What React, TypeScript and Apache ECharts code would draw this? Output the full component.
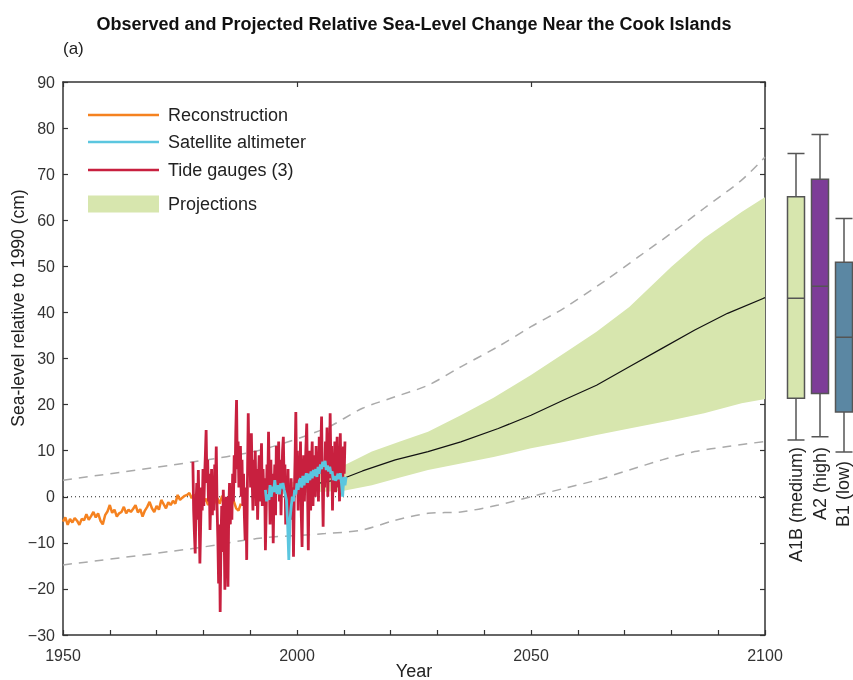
import React, { useEffect, useRef } from "react";
import * as echarts from "echarts";

// ---------- data ----------
const reconStart = 1950;
const reconStep = 0.5;
const reconValues = [
  -5.4, -4.5, -6.1, -4.8, -5.6, -4.6, -5.2, -6.1, -4.8, -5.1,
  -3.8, -5.0, -4.2, -3.3, -4.5, -3.6, -5.2, -6.0, -4.0, -3.2,
  -1.8, -3.5, -2.8, -4.3, -3.6, -3.3, -2.2, -3.6, -2.8, -3.3,
  -2.6, -1.8, -3.4, -2.7, -4.3, -3.0, -2.2, -1.1, -2.5, -3.3,
  -2.0, -2.8, -0.7, -1.6, -2.5, -1.2, -1.8, -0.9, -1.5, 0.4,
  -0.7, -0.2, 0.2, 0.4, 0.8, -0.3, 0.5, -1.0, -0.5, -2.0,
  -1.2, -0.4, -1.8, -0.6, -2.2, -1.0, -0.3, -1.5, 0.2, -0.8,
  -2.0, -1.2, 0.0, -1.0, -2.5, -3.0, -1.5,
];

// bimonthly tide-gauge values, starting 1977.75
const tideStart = 1977.75;
const tideStep = 1 / 6;
const tideValues = [
  7.6, -3,
  -8, -12.3, -2, 3, -5, 5.8,
  -4, -14.5, -6, 2, -3, 6,
  -2, 4, 9, 14.5, 3, 8,
  -1, 5, -7.2, 0, 6, -4,
  3, -3, 7, 2, 10.9, -2,
  -9, -18.8, -6, -25, -10, -2,
  -12, 1.5, -6, -20.2, -8, 0,
  -7, -19.5, -3, 3, -6, 2,
  -5, 5, -1, 9, 3, 14,
  21, 6, 12, 2, 6.5, 11,
  0, 8, -2, 5, -4, -9.4,
  2, -13.7, 4, 18.1, 6, 10,
  2, 13.8, 4, -3, 8, 1,
  10, -2, 6, -5, 3, 9,
  -1, 5, 11.6, -2, 6, 0,
  4, -11.6, -3, 7, 2, 14.1,
  4, -6, 8, -2, 5, -10.1,
  1, 7, -4, 11, 2, 6,
  12, -1, 8, -4, 4, 10,
  13, 2, 7, -6, 3, -2,
  6, -9, 1, -5, 4, -3,
  2, -13, 0, 8, 18.4, 3,
  10, -3, 7, 1, 12, -4,
  -10.9, 3, 9, -1, 6, 11,
  15.9, 2, -11.6, 4, 10, -3,
  7, 12, -2, 5, 9, 0,
  11, 3, 8, -1, 13, 5,
  10, 17.4, 4, -6.5, 7, 2,
  12, 5, 15, 0, 9, 4,
  18.1, 6, 11, -3, 8, 3,
  12, 1, 9, 13, 2, 7,
  -1, 13.8, 4, 9, 2, 10.9,
  5, 12,
];

const satStart = 1993.25;
const satStep = 0.25;
const satValues = [
  1.5, -1, 0.5, -0.7, 2.5, 0, 2.2, 1, 3.6, 1.5,
  0.7, 2.5, 0.5, 2.9, 1.8, 3, 1.5, 0.5, -0.7, -6,
  -13.7, -5, -2.2, 0, -1, 1.5, 0.5, 2.9, 1.5, 3.5,
  4, 2, 4.5, 2.5, 4, 5.1, 3, 5, 3.6, 5.5,
  4, 5.8, 4.5, 6, 4.3, 6.5, 5, 7, 6, 7.6,
  6.5, 7.8, 5.8, 6.8, 5.5, 6.5, 5, 5.5, 3.6, 4.5,
  3.5, 4, 5, 3.8, 5.1, 3, 0, 4.3, 2.5, 4.3,
];

const bandYears = [1990, 2000, 2010, 2016, 2022, 2028, 2035, 2042, 2050, 2057, 2064, 2071, 2080, 2087, 2095, 2100];
const bandUpper = [0, 3.5, 6.8, 9.8, 12.0, 14.1, 17.7, 21.5, 26.4, 31.1, 35.8, 41.2, 49.9, 56.1, 61.8, 65.0];
const bandLower = [0, 0.8, 1.3, 2.5, 4.2, 5.8, 7.2, 8.6, 10.5, 11.9, 13.4, 14.8, 16.6, 18.1, 20.3, 21.2];

const medianYears = [1990, 2000, 2010, 2014, 2021, 2028, 2035, 2043, 2050, 2057, 2064, 2071, 2078, 2085, 2092, 2100];
const medianValues = [0, 2.0, 4.0, 5.6, 8.0, 9.8, 11.9, 14.8, 17.7, 21.0, 24.2, 28.2, 32.2, 36.2, 39.8, 43.2];

const upperDashYears = [1950, 1978, 1992, 2006, 2014, 2021, 2028, 2035, 2043, 2050, 2057, 2066, 2073, 2080, 2087, 2095, 2100];
const upperDashValues = [3.6, 7.6, 10.1, 14.8, 19.2, 21.7, 24.2, 28.2, 32.6, 36.9, 40.9, 47.0, 52.1, 57.2, 62.6, 68.7, 73.7];
const lowerDashYears = [1950, 1978, 1992, 2006, 2014, 2021, 2028, 2035, 2043, 2050, 2057, 2064, 2071, 2078, 2085, 2092, 2100];
const lowerDashValues = [-14.8, -11.2, -9.0, -8.0, -7.2, -5.1, -3.6, -3.3, -1.8, 0, 1.8, 3.6, 5.8, 8.0, 9.8, 10.9, 12.0];

const scenarios = ["A1B (medium)", "A2 (high)", "B1 (low)"];
// [min, Q1, median, Q3, max]
const scenarioStats = [
  [12.3, 21.4, 43.1, 65.1, 74.5],
  [13.0, 22.4, 45.7, 68.9, 78.6],
  [9.7, 18.4, 34.6, 50.9, 60.4],
];
const scenarioColors = ["#d7e6ae", "#7d3c98", "#5b87a3"];

const yTicks = { min: -30, max: 90, interval: 10 };
const xTicks = { min: 1950, max: 2100, interval: 10, labelEvery: 50 };

const legendItems = [
  { name: "Reconstruction", color: "#f58220", kind: "line" },
  { name: "Satellite altimeter", color: "#5bc6df", kind: "line" },
  { name: "Tide gauges (3)", color: "#c8203f", kind: "line" },
  { name: "Projections", color: "#d7e6ae", kind: "rect" },
];

// ---------- helpers ----------
const series = (start: number, step: number, vals: number[]) =>
  vals.map((v, i) => [start + i * step, v]);
const pairs = (xs: number[], ys: number[]) => xs.map((x, i) => [x, ys[i]]);
const fmtNum = (v: number) => (v < 0 ? "\u2212" + Math.abs(v) : String(v));

const FONT = "Liberation Sans, Arial, Helvetica, sans-serif";
const TXT = "#333";

export default function App() {
  const ref = useRef<HTMLDivElement>(null);
  useEffect(() => {
    if (!ref.current) return;
    const chart = echarts.init(ref.current, undefined, { renderer: "svg" });

    const legendGraphics: any[] = [];
    const legendY = [115, 142, 170, 204];
    legendItems.forEach((it, i) => {
      const y = legendY[i];
      if (it.kind === "line") {
        legendGraphics.push({
          type: "line",
          shape: { x1: 88, y1: y, x2: 159, y2: y },
          style: { stroke: it.color, lineWidth: 2.5 },
        });
      } else {
        legendGraphics.push({
          type: "rect",
          shape: { x: 88, y: y - 8.5, width: 71, height: 17 },
          style: { fill: it.color },
        });
      }
      legendGraphics.push({
        type: "text",
        x: 168,
        y: y,
        style: { text: it.name, font: `18px ${FONT}`, fill: "#222", verticalAlign: "middle", align: "left" },
      });
    });

    const scenarioLabelX = [796, 820, 843];
    const scenarioLabelTop = [447, 447, 461];
    const scenarioGraphics = scenarios.map((s, i) => ({
      type: "text",
      x: scenarioLabelX[i],
      y: scenarioLabelTop[i],
      rotation: Math.PI / 2,
      style: { text: s, font: `18px ${FONT}`, fill: "#222", align: "right", verticalAlign: "middle" },
    }));

    const axisLine = { show: true, onZero: false, lineStyle: { color: "#333", width: 1.5 } };
    const axisTick = { show: true, inside: true, length: 5, lineStyle: { color: "#333", width: 1.2 } };

    const option: any = {
      animation: false,
      textStyle: { fontFamily: FONT },
      grid: [
        { left: 63, right: 88, top: 82, bottom: 45, outerBoundsMode: "none", containLabel: false },
        { left: 784, width: 72, top: 82, bottom: 45, outerBoundsMode: "none", containLabel: false },
      ],
      xAxis: [
        {
          type: "value",
          gridIndex: 0,
          position: "bottom",
          min: xTicks.min,
          max: xTicks.max,
          interval: xTicks.interval,
          axisLine,
          axisTick,
          axisLabel: {
            color: TXT,
            fontSize: 16,
            margin: 12,
            formatter: (v: number) => (v % xTicks.labelEvery === 0 ? String(v) : ""),
          },
          splitLine: { show: false },
        },
        {
          type: "value",
          gridIndex: 0,
          position: "top",
          min: xTicks.min,
          max: xTicks.max,
          interval: 50,
          axisLine,
          axisTick,
          axisLabel: { show: false },
          splitLine: { show: false },
        },
        {
          type: "category",
          gridIndex: 1,
          data: scenarios,
          show: false,
        },
      ],
      yAxis: [
        {
          type: "value",
          gridIndex: 0,
          position: "left",
          min: yTicks.min,
          max: yTicks.max,
          interval: yTicks.interval,
          axisLine,
          axisTick,
          axisLabel: { color: TXT, fontSize: 16, margin: 8, formatter: fmtNum },
          splitLine: { show: false },
        },
        {
          type: "value",
          gridIndex: 0,
          position: "right",
          min: yTicks.min,
          max: yTicks.max,
          interval: yTicks.interval,
          axisLine,
          axisTick,
          axisLabel: { show: false },
          splitLine: { show: false },
        },
        {
          type: "value",
          gridIndex: 1,
          min: yTicks.min,
          max: yTicks.max,
          show: false,
          splitLine: { show: false },
        },
      ],
      series: [
        {
          type: "custom",
          xAxisIndex: 0,
          yAxisIndex: 0,
          silent: true,
          z: 1,
          data: bandYears.map((y, i) => [y, bandLower[i], bandUpper[i]]),
          encode: { x: 0, y: [1, 2] },
          renderItem: (params: any, api: any) => {
            if (params.dataIndex !== 0) return null;
            const pts: number[][] = [];
            for (let i = 0; i < bandYears.length; i++) pts.push(api.coord([bandYears[i], bandUpper[i]]));
            for (let i = bandYears.length - 1; i >= 0; i--) pts.push(api.coord([bandYears[i], bandLower[i]]));
            return { type: "polygon", shape: { points: pts }, style: { fill: "#d7e6ae" } };
          },
        },
        {
          type: "line",
          xAxisIndex: 0,
          yAxisIndex: 0,
          z: 2,
          data: [[1950, 0], [2100, 0]],
          symbol: "none",
          lineStyle: { color: "#222", width: 1, type: [1, 3] },
        },
        {
          type: "line",
          xAxisIndex: 0,
          yAxisIndex: 0,
          z: 2,
          data: pairs(upperDashYears, upperDashValues),
          symbol: "none",
          smooth: 0.3,
          lineStyle: { color: "#aaa", width: 1.5, type: [9, 7] },
        },
        {
          type: "line",
          xAxisIndex: 0,
          yAxisIndex: 0,
          z: 2,
          data: pairs(lowerDashYears, lowerDashValues),
          symbol: "none",
          smooth: 0.3,
          lineStyle: { color: "#aaa", width: 1.5, type: [9, 7] },
        },
        {
          type: "line",
          xAxisIndex: 0,
          yAxisIndex: 0,
          z: 3,
          data: pairs(medianYears, medianValues),
          symbol: "none",
          lineStyle: { color: "#111", width: 1.2 },
        },
        {
          type: "line",
          xAxisIndex: 0,
          yAxisIndex: 0,
          z: 4,
          data: series(reconStart, reconStep, reconValues),
          symbol: "none",
          lineStyle: { color: "#f58220", width: 2.5 },
        },
        {
          type: "line",
          xAxisIndex: 0,
          yAxisIndex: 0,
          z: 5,
          data: series(tideStart, tideStep, tideValues),
          symbol: "none",
          lineStyle: { color: "#c8203f", width: 2.8 },
        },
        {
          type: "line",
          xAxisIndex: 0,
          yAxisIndex: 0,
          z: 6,
          data: series(satStart, satStep, satValues),
          symbol: "none",
          lineStyle: { color: "#5bc6df", width: 2.8 },
        },
        {
          type: "boxplot",
          xAxisIndex: 2,
          yAxisIndex: 2,
          boxWidth: [17, 17],
          data: scenarioStats.map((s, i) => ({
            value: s,
            itemStyle: { color: scenarioColors[i], borderColor: "#555", borderWidth: 1.5 },
          })),
        },
      ],
      graphic: [
        {
          type: "text",
          x: 414,
          y: 24,
          style: {
            text: "Observed and Projected Relative Sea-Level Change Near the Cook Islands",
            font: `bold 18px ${FONT}`,
            fill: "#111",
            align: "center",
            verticalAlign: "middle",
          },
        },
        {
          type: "text",
          x: 63,
          y: 48,
          style: { text: "(a)", font: `17px ${FONT}`, fill: "#222", align: "left", verticalAlign: "middle" },
        },
        {
          type: "text",
          x: 414,
          y: 671,
          style: { text: "Year", font: `18px ${FONT}`, fill: "#222", align: "center", verticalAlign: "middle" },
        },
        {
          type: "text",
          x: 18,
          y: 308,
          rotation: Math.PI / 2,
          style: {
            text: "Sea-level relative to 1990 (cm)",
            font: `17.5px ${FONT}`,
            fill: "#222",
            align: "center",
            verticalAlign: "middle",
          },
        },
        ...legendGraphics,
        ...scenarioGraphics,
      ],
    };
    chart.setOption(option);
    return () => chart.dispose();
  }, []);
  return <div ref={ref} style={{ position: "fixed", left: 0, top: 0, width: 853, height: 680 }} />;
}
